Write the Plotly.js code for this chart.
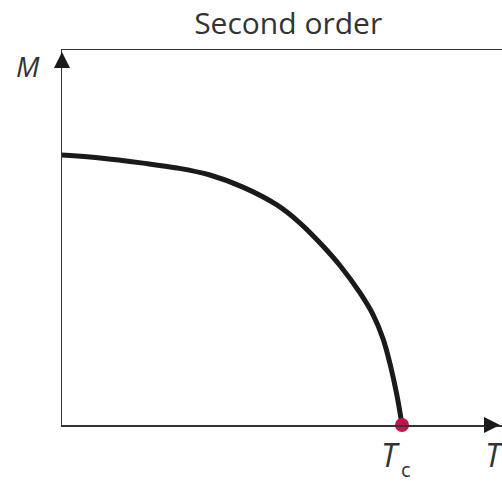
<!DOCTYPE html>
<html>
<head>
<meta charset="utf-8">
<script src="https://cdn.plot.ly/plotly-3.0.1.min.js"></script>
<style>html,body{margin:0;padding:0;background:#fff;}#chart{width:502px;height:486px;}</style>
</head>
<body>
<div id="chart"></div>
<script>
// Temperature in units of Tc, magnetization in units of M(0)
var temperature = [0, 0.112, 0.238, 0.338, 0.435, 0.532, 0.632, 0.700, 0.759, 0.818, 0.876, 0.915, 0.944, 0.965, 0.985, 1.0];
var magnetization = [1.0, 0.989, 0.970, 0.952, 0.926, 0.881, 0.815, 0.748, 0.674, 0.590, 0.490, 0.408, 0.320, 0.225, 0.110, 0];
var criticalT = [1.0];
var criticalM = [0];
var xMax = 1.294;
var yMax = 1.389;

var traces = [
  {
    x: temperature, y: magnetization, type: 'scatter', mode: 'lines',
    line: {color: '#1a1a1a', width: 5, shape: 'spline', smoothing: 1}, hoverinfo: 'skip'
  },
  {
    x: criticalT, y: criticalM, type: 'scatter', mode: 'markers',
    marker: {color: '#c3134f', size: 14}, cliponaxis: false, hoverinfo: 'skip'
  }
];

var fontFam = '"Open Sans", "DejaVu Sans", sans-serif';
var layout = {
  width: 502, height: 486,
  margin: {l: 62, r: 0, t: 50, b: 61},
  paper_bgcolor: '#ffffff', plot_bgcolor: '#ffffff',
  showlegend: false,
  title: {text: 'Second order', font: {family: fontFam, size: 30, color: '#333333'},
          x: 0.514, xref: 'paper', xanchor: 'center', y: 0.952, yref: 'container', yanchor: 'middle'},
  xaxis: {range: [0, xMax], showgrid: false, zeroline: false, showticklabels: false,
          ticks: '', showline: true, linecolor: '#333333', linewidth: 1.5, mirror: true, fixedrange: true},
  yaxis: {range: [0, yMax], showgrid: false, zeroline: false, showticklabels: false,
          ticks: '', showline: true, linecolor: '#333333', linewidth: 1.5, mirror: false, fixedrange: true},
  annotations: [
    {x: 0, y: yMax, xref: 'x', yref: 'y', ax: 0, ay: 14, axref: 'pixel', ayref: 'pixel',
     showarrow: true, arrowhead: 2, arrowsize: 1.6, arrowwidth: 2, arrowcolor: '#1a1a1a', text: '', yshift: -2},
    {x: xMax, y: 0, xref: 'x', yref: 'y', ax: -14, ay: 0,
     showarrow: true, arrowhead: 2, arrowsize: 1.6, arrowwidth: 2, arrowcolor: '#1a1a1a', text: '', xshift: -2},
    {x: 0, y: yMax, xref: 'x', yref: 'y', text: '<i>M</i>', showarrow: false,
     xanchor: 'center', yanchor: 'middle', xshift: -34, yshift: -16,
     font: {family: fontFam, size: 28, color: '#333333'}},
    {x: criticalT[0], y: 0, xref: 'x', yref: 'y', text: '<i>T</i>', showarrow: false,
     xanchor: 'center', yanchor: 'middle', xshift: -12, yshift: -29,
     font: {family: fontFam, size: 32, color: '#333333'}},
    {x: criticalT[0], y: 0, xref: 'x', yref: 'y', text: 'c', showarrow: false,
     xanchor: 'center', yanchor: 'middle', xshift: 4, yshift: -44,
     font: {family: fontFam, size: 20, color: '#333333'}},
    {x: xMax, y: 0, xref: 'x', yref: 'y', text: '<i>T</i>', showarrow: false,
     xanchor: 'center', yanchor: 'middle', xshift: -8, yshift: -29,
     font: {family: fontFam, size: 32, color: '#333333'}}
  ]
};

Plotly.newPlot('chart', traces, layout, {displayModeBar: false, staticPlot: true});
</script>
</body>
</html>
